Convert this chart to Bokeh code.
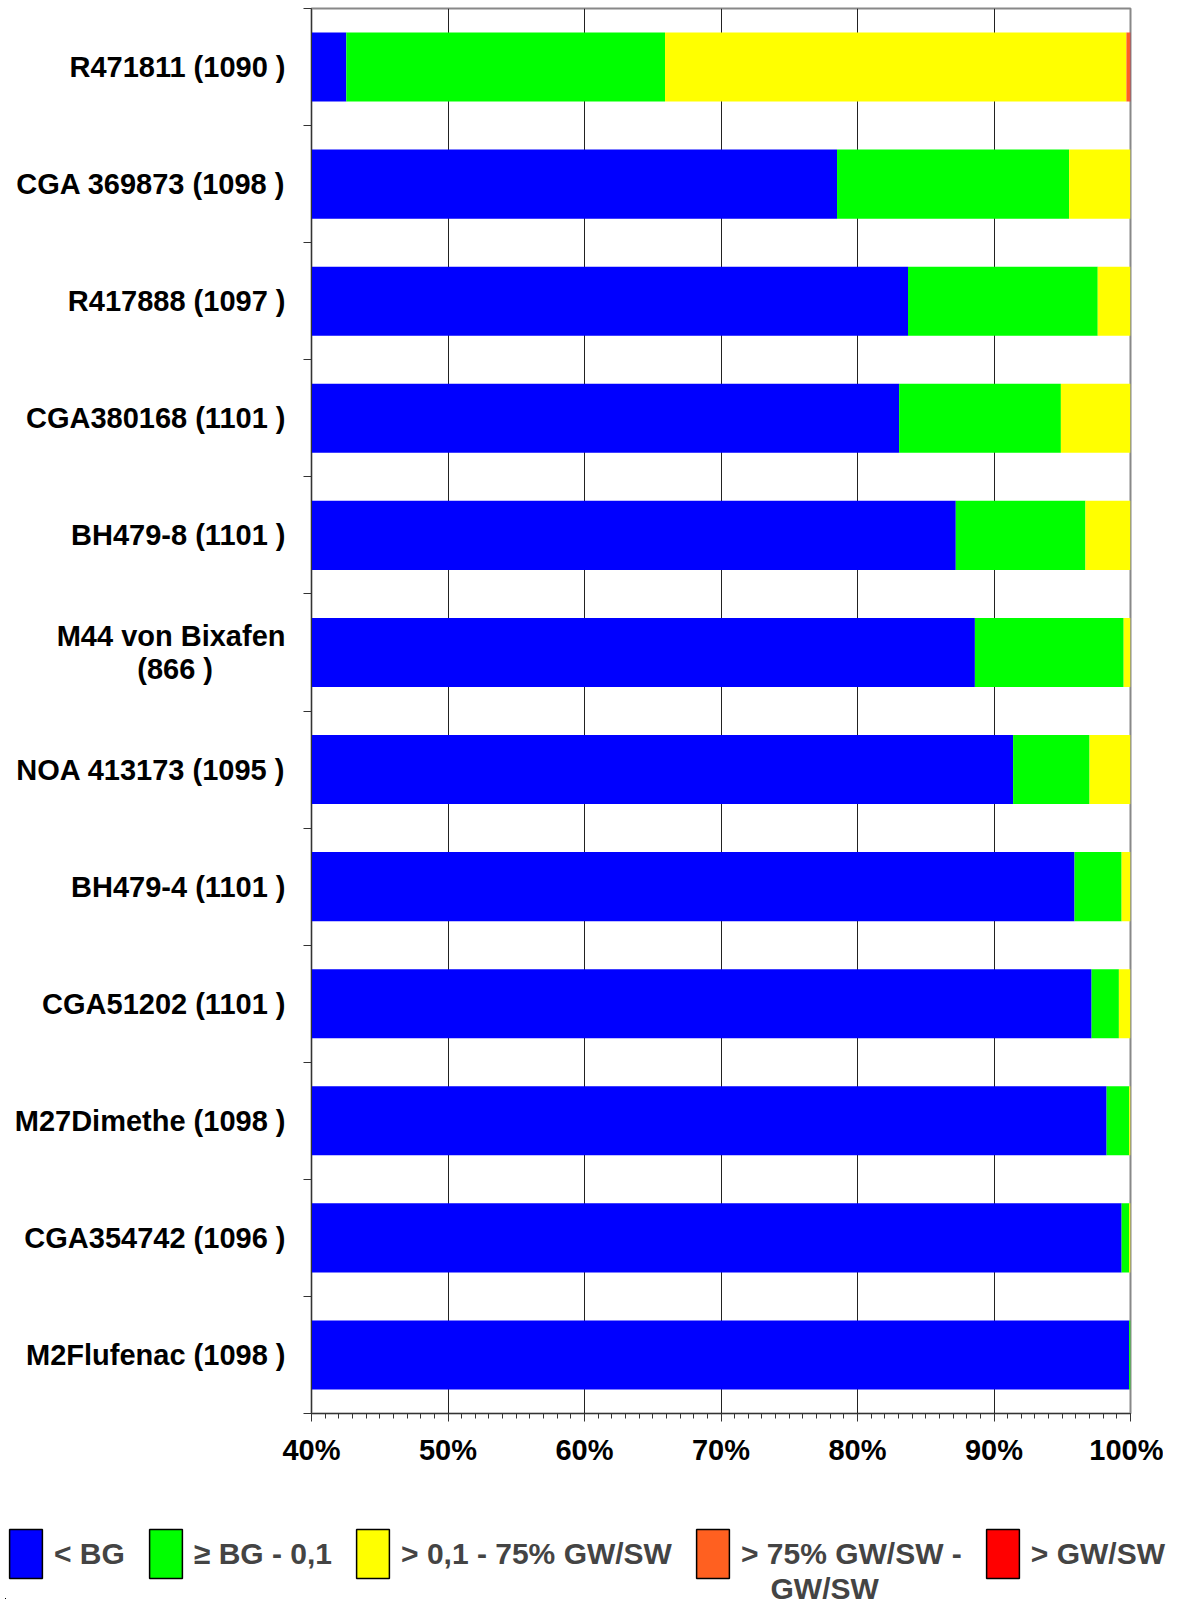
from bokeh.plotting import figure
from bokeh.models import FixedTicker, Range1d, Legend, LegendItem, ColumnDataSource, Label
from bokeh.embed import file_html
from bokeh.resources import INLINE

# ---- data (top to bottom) ----
categories = ["R471811 (1090 )", "CGA 369873 (1098 )", "R417888 (1097 )", "CGA380168 (1101 )",
              "BH479-8 (1101 )", "M44 von Bixafen\n(866 )" + "\u00a0" * 9, "NOA 413173 (1095 )",
              "BH479-4 (1101 )", "CGA51202 (1101 )", "M27Dimethe (1098 )", "CGA354742 (1096 )",
              "M2Flufenac (1098 )"]
lt_bg = [42.55, 78.5, 83.7, 83.05, 87.2, 88.6, 91.4, 95.9, 97.15, 98.25, 99.35, 99.9]
bg_01 = [23.35, 17.0, 13.9, 11.85, 9.5, 10.9, 5.6, 3.45, 2.0, 1.65, 0.55, 0.1]
gt01_75 = [33.8, 4.5, 2.4, 5.1, 3.3, 0.5, 3.0, 0.65, 0.85, 0.1, 0.1, 0.0]
gt75_gw = [0.25, 0, 0, 0, 0, 0, 0, 0, 0, 0, 0, 0]
gt_gw = [0.05, 0, 0, 0, 0, 0, 0, 0, 0, 0, 0, 0]

series = ["lt_bg", "bg_01", "gt01_75", "gt75_gw", "gt_gw"]
labels = ["< BG", "≥ BG - 0,1", "> 0,1 - 75% GW/SW", "> 75% GW/SW -", "> GW/SW"]
label4_line2 = "GW/SW"
colors = ["#0000FF", "#00FF00", "#FFFF00", "#FF6020", "#FF0000"]
x_ticks = [40, 50, 60, 70, 80, 90, 100]
x_tick_labels = ["40%", "50%", "60%", "70%", "80%", "90%", "100%"]

n = len(categories)
ypos = [n - 0.5 - i for i in range(n)]
src = ColumnDataSource(dict(y=ypos, lt_bg=lt_bg, bg_01=bg_01, gt01_75=gt01_75,
                            gt75_gw=gt75_gw, gt_gw=gt_gw))

FONT = "Liberation Sans"
W = 1163
H1 = 1500
H2 = 99

p = figure(width=W, height=H1, output_backend="svg", toolbar_location=None,
           x_range=Range1d(40, 100), y_range=Range1d(0, n),
           min_border_left=311, min_border_right=W - 1130, min_border_top=8,
           min_border_bottom=H1 - 1413)

rs = p.hbar_stack(series, y="y", height=0.59, color=colors, source=src, line_width=0)

# x axis
xa = p.xaxis[0]
xa.ticker = FixedTicker(ticks=x_ticks, minor_ticks=list(range(40, 101)))
xa.major_label_overrides = {t: l for t, l in zip(x_ticks, x_tick_labels)}
xa.major_label_text_font = FONT
xa.major_label_text_font_style = "bold"
xa.major_label_text_font_size = "29px"
xa.major_label_text_color = "black"
xa.major_label_standoff = 12
xa.major_tick_in = 0
xa.major_tick_out = 8
xa.minor_tick_in = 0
xa.minor_tick_out = 5
xa.axis_line_color = "#333333"
xa.major_tick_line_color = "#333333"
xa.minor_tick_line_color = "#333333"

# y axis
ya = p.yaxis[0]
ya.ticker = FixedTicker(ticks=ypos, minor_ticks=list(range(0, n + 1)))
ya.major_label_overrides = {y: c for y, c in zip(ypos, categories)}
ya.major_label_text_font = FONT
ya.major_label_text_font_style = "bold"
ya.major_label_text_font_size = "29px"
ya.major_label_text_line_height = 1.05
ya.major_label_text_color = "black"
ya.major_label_standoff = 18
ya.major_tick_in = 0
ya.major_tick_out = 0
ya.minor_tick_in = 0
ya.minor_tick_out = 8
ya.axis_line_color = "#333333"
ya.minor_tick_line_color = "#333333"

p.xgrid.ticker = FixedTicker(ticks=x_ticks)
p.xgrid.grid_line_color = "#222222"
p.xgrid.grid_line_width = 1
p.ygrid.visible = False
p.outline_line_color = "#888888"
p.outline_line_width = 2

# ---- legend figure (separate root so it is not frame-aligned) ----
lg = figure(width=1179, height=H2, output_backend="svg", toolbar_location=None,
            x_range=Range1d(200, 300), y_range=Range1d(100, 112),
            min_border_left=5, min_border_right=0, min_border_top=23, min_border_bottom=0)
lg.axis.visible = False
lg.grid.visible = False
lg.outline_line_color = None
lrs = lg.hbar_stack(series, y="y", height=0.59, fill_color=colors, line_color="black",
                    line_width=1.5, source=src)

items = [LegendItem(label=l, renderers=[r]) for l, r in zip(labels, lrs)]
legend = Legend(items=items, orientation="horizontal", location="top_left",
                glyph_width=41, glyph_height=61, label_standoff=8, spacing=20,
                padding=0, margin=0, border_line_alpha=0, background_fill_alpha=0,
                label_text_font=FONT, label_text_font_style="bold",
                label_text_font_size="30px", label_text_baseline="middle")
lg.add_layout(legend, "center")
lg.add_layout(Label(x=765, y=11, x_units="screen", y_units="screen", text=label4_line2,
                    text_font=FONT, text_font_style="bold", text_font_size="30px",
                    text_baseline="alphabetic"))

open("out.html", "w").write(file_html([p, lg], INLINE))
